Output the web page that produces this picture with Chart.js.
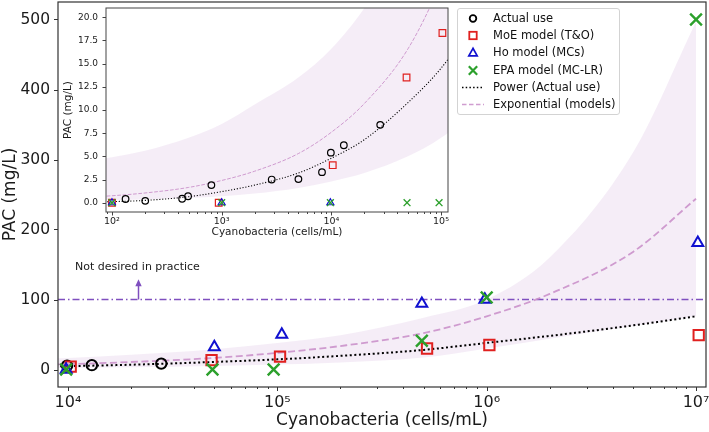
<!DOCTYPE html>
<html>
<head>
<meta charset="utf-8">
<script src="https://cdn.jsdelivr.net/npm/chart.js@4.4.0/dist/chart.umd.min.js"></script>
<style>
html, body { margin: 0; padding: 0; background: #fff; }
#wrap { position: relative; width: 709px; height: 432px; font-family: 'DejaVu Sans', sans-serif; }
#main, #inset { position: absolute; left: 0; top: 0; }
#legend { position: absolute; left: 457px; top: 8px; width: 161px; height: 105px;
  border: 1px solid #d3d3d3; border-radius: 3px; background: rgba(255,255,255,0.85);
  font-size: 11.5px; color: #111; }
.row { position: absolute; left: 0; height: 17px; line-height: 17px; white-space: nowrap; }
.row svg { position: absolute; left: 0; top: 0; }
.row span { position: absolute; left: 35px; top: 0; }
</style>
</head>
<body>
<div id="wrap">
  <canvas id="main" width="709" height="432"></canvas>
  <canvas id="inset" width="460" height="242"></canvas>
  <div id="legend"></div>
</div>
<script>
// values
var actualX = [133, 201, 436, 494, 806, 2860, 5010, 8220, 9900, 13000, 27900];
var actualY = [0.4, 0.2, 0.43, 0.7, 1.9, 2.5, 2.55, 3.3, 5.4, 6.2, 8.4];
var moeX = [100, 940, 10300, 48500, 103000, 519000, 1030000, 10300000];
var moeY = [0, 0, 4.05, 13.5, 18.3, 30, 35, 49];
var hoX = [100, 1000, 9800, 50000, 105000, 490000, 980000, 10200000];
var hoY = [0, 0, 0, 32, 50, 94, 100, 181];
var epaX = [100, 1000, 9800, 49000, 96000, 490000, 1000000, 10000000];
var epaY = [0, 0, 0, 0, 0, 41, 103, 500];

// fitted curves and band, sampled off the figure
var curveX = [80, 100, 200, 500, 1e3, 2e3, 5e3, 1e4, 2e4, 5e4, 1e5, 2e5, 5e5, 1e6, 2e6, 5e6, 1e7];
var powerY = [0.1, 0.12, 0.25, 0.65, 1.2, 1.9, 3.2, 4.8, 6.8, 10.8, 14.5, 19.5, 28, 38, 48, 63, 76];
var expY = [0.68, 0.75, 1.05, 1.65, 2.4, 3.4, 5.3, 7.6, 10.7, 16.6, 23.8, 33.5, 52, 76, 108, 168, 244];
var bandHi = [4.7, 4.9, 5.6, 7.0, 8.5, 10.6, 13.5, 16.6, 21, 29, 38, 49, 74, 100, 160, 310, 497];
var bandLo = [0.28, 0.3, 0.35, 0.5, 0.7, 1.0, 1.6, 2.3, 3.2, 5.0, 7.0, 10, 17, 30, 44, 62, 76];

var limitY = 100;          // "not desired in practice" line
var noteX = 10800, noteY = 142, arrowX = 21500, arrowTop = 129;

var xTicks = [1e4, 1e5, 1e6, 1e7];
var xTickLabels = ['10\u2074', '10\u2075', '10\u2076', '10\u2077'];
var yTicks = [0, 100, 200, 300, 400, 500];
var insetXTicks = [1e2, 1e3, 1e4, 1e5];
var insetXTickLabels = ['10\u00b2', '10\u00b3', '10\u2074', '10\u2075'];
var insetYTicks = [0, 2.5, 5, 7.5, 10, 12.5, 15, 17.5, 20];

var RED = '#e0201f', BLUE = '#1010d0', GREEN = '#2ca02c', PINK = 'rgba(200,140,200,0.85)';
var BAND = 'rgba(220,190,225,0.28)', PURPLE = '#7f4fbf';

Chart.defaults.font.family = "'DejaVu Sans', sans-serif";
Chart.defaults.color = '#1a1a1a';

function pts(xs, ys) {
  return xs.map(function (x, i) { return { x: x, y: ys[i] }; });
}

function minorTicks(majors, lo, hi) {
  var out = [];
  majors.concat([majors[0] / 10]).forEach(function (d) {
    for (var k = 2; k < 10; k++) {
      var v = d * k;
      if (v > lo * 1.01 && v < hi) out.push(v);
    }
  });
  return out;
}

function setTicks(majors, minors) {
  return function (scale) {
    var all = majors.map(function (v) { return { value: v, major: true }; })
      .concat(minors.map(function (v) { return { value: v, major: false }; }));
    all.sort(function (a, b) { return a.value - b.value; });
    scale.ticks = all;
  };
}

// fixed axis box size, no extra room for overhanging labels
function fixSize(prop, size) {
  return function (s) {
    s[prop] = size;
    s.paddingTop = 0; s.paddingBottom = 0; s.paddingLeft = 0; s.paddingRight = 0;
  };
}

// s = sizes for main or inset
function makeDatasets(s) {
  return [
    { label: 'EPA model (MC-LR)', data: pts(epaX, epaY), pointStyle: 'crossRot', pointRadius: s.x,
      pointBorderWidth: s.xw, pointBorderColor: GREEN, pointBackgroundColor: GREEN },
    { label: 'Ho model (MCs)', data: pts(hoX, hoY), pointStyle: 'triangle', pointRadius: s.tri,
      pointBorderWidth: s.w, pointBorderColor: BLUE, pointBackgroundColor: 'rgba(0,0,0,0)' },
    { label: 'MoE model (T&O)', data: pts(moeX, moeY), pointStyle: 'rect', pointRadius: s.sq,
      pointBorderWidth: s.w, pointBorderColor: RED, pointBackgroundColor: 'rgba(0,0,0,0)' },
    { label: 'Actual use', data: pts(actualX, actualY), pointStyle: 'circle', pointRadius: s.c,
      pointBorderWidth: s.w, pointBorderColor: '#000', pointBackgroundColor: 'rgba(0,0,0,0)' },
    { label: 'Power (Actual use)', data: pts(curveX, powerY), showLine: true, pointRadius: 0,
      borderColor: '#000', borderWidth: s.dot, borderDash: s.dotDash, cubicInterpolationMode: 'monotone' },
    { label: 'Exponential (models)', data: pts(curveX, expY), showLine: true, pointRadius: 0,
      borderColor: PINK, borderWidth: s.dash, borderDash: s.dashDash, cubicInterpolationMode: 'monotone' },
    { label: 'band hi', data: pts(curveX, bandHi), showLine: true, pointRadius: 0,
      borderColor: 'rgba(0,0,0,0)', borderWidth: 1, backgroundColor: BAND, fill: '+1',
      cubicInterpolationMode: 'monotone' },
    { label: 'band lo', data: pts(curveX, bandLo), showLine: true, pointRadius: 0,
      borderColor: 'rgba(0,0,0,0)', borderWidth: 1, fill: false, cubicInterpolationMode: 'monotone' }
  ];
}

var framePlugin = {
  id: 'frame',
  beforeDraw: function (chart, args, o) {
    if (!o.fill) return;
    var a = chart.chartArea, ctx = chart.ctx;
    ctx.save();
    ctx.fillStyle = o.fill;
    ctx.fillRect(a.left, a.top, a.right - a.left, a.bottom - a.top);
    ctx.restore();
  },
  afterDatasetsDraw: function (chart, args, o) {
    var a = chart.chartArea, ctx = chart.ctx, sx = chart.scales.x, sy = chart.scales.y;
    ctx.save();
    ctx.strokeStyle = o.color;
    ctx.lineWidth = o.width;
    ctx.strokeRect(a.left, a.top, a.right - a.left, a.bottom - a.top);
    ctx.lineWidth = 1;
    sx.ticks.forEach(function (t) {
      var px = Math.round(sx.getPixelForValue(t.value)) + 0.5;
      ctx.beginPath();
      ctx.moveTo(px, a.bottom);
      ctx.lineTo(px, a.bottom + (t.major ? o.major : o.minor));
      ctx.stroke();
    });
    sy.ticks.forEach(function (t) {
      var py = Math.round(sy.getPixelForValue(t.value)) + 0.5;
      ctx.beginPath();
      ctx.moveTo(a.left, py);
      ctx.lineTo(a.left - o.major, py);
      ctx.stroke();
    });
    ctx.restore();
  }
};

var notePlugin = {
  id: 'note',
  afterDatasetsDraw: function (chart) {
    var ctx = chart.ctx, sx = chart.scales.x, sy = chart.scales.y;
    var ax = Math.round(sx.getPixelForValue(arrowX)) + 0.5;
    var y0 = sy.getPixelForValue(limitY), y1 = sy.getPixelForValue(arrowTop);
    ctx.save();
    ctx.strokeStyle = PURPLE;
    ctx.fillStyle = PURPLE;
    ctx.lineWidth = 1.5;
    ctx.beginPath();
    ctx.moveTo(ax, y0);
    ctx.lineTo(ax, y1 + 6);
    ctx.stroke();
    ctx.beginPath();
    ctx.moveTo(ax, y1);
    ctx.lineTo(ax - 3.2, y1 + 7);
    ctx.lineTo(ax + 3.2, y1 + 7);
    ctx.closePath();
    ctx.fill();
    ctx.fillStyle = '#1a1a1a';
    ctx.font = "11px 'DejaVu Sans', sans-serif";
    ctx.textBaseline = 'alphabetic';
    ctx.fillText('Not desired in practice', sx.getPixelForValue(noteX), sy.getPixelForValue(noteY));
    ctx.restore();
  }
};

var X_MIN = 8958, X_MAX = 1.116e7;
var mainSets = makeDatasets({ x: 8.3, xw: 2.4, tri: 6.3, sq: 7.3, c: 5.2, w: 2,
  dot: 2, dotDash: [2, 2.6], dash: 1.8, dashDash: [7, 3.5] });
mainSets.splice(6, 0, { label: 'limit', data: pts([X_MIN, X_MAX], [limitY, limitY]), showLine: true,
  pointRadius: 0, borderColor: PURPLE, borderWidth: 1.3, borderDash: [7, 3, 1.5, 3] });

new Chart(document.getElementById('main'), {
  type: 'scatter',
  data: { datasets: mainSets },
  plugins: [framePlugin, notePlugin],
  options: {
    responsive: false, animation: false, events: [],
    layout: { autoPadding: false, padding: { left: 0, right: 3, top: 2, bottom: 0 } },
    plugins: {
      legend: { display: false }, tooltip: { enabled: false },
      frame: { color: '#333', width: 1.2, major: 4, minor: 2 }
    },
    scales: {
      x: {
        type: 'logarithmic', min: X_MIN, max: X_MAX,
        afterBuildTicks: setTicks(xTicks, minorTicks(xTicks, X_MIN, X_MAX)),
        afterFit: fixSize('height', 45),
        grid: { display: false, drawTicks: false }, border: { display: false },
        ticks: { autoSkip: false, maxRotation: 0, padding: 6, font: { size: 16 },
          callback: function (v) { var k = xTicks.indexOf(v); return k >= 0 ? xTickLabels[k] : ''; } },
        title: { display: true, text: 'Cyanobacteria (cells/mL)', font: { size: 17 }, padding: { top: 0, bottom: 1 } }
      },
      y: {
        min: -25, max: 525,
        afterBuildTicks: setTicks(yTicks, []),
        afterFit: fixSize('width', 58),
        grid: { display: false, drawTicks: false }, border: { display: false },
        ticks: { autoSkip: false, padding: 8, font: { size: 15.5 } },
        title: { display: true, text: 'PAC (mg/L)', font: { size: 17 }, padding: { top: 0, bottom: 0 } }
      }
    }
  }
});

var IX_MIN = 88.2, IX_MAX = 1.158e5;
new Chart(document.getElementById('inset'), {
  type: 'scatter',
  data: { datasets: makeDatasets({ x: 4.8, xw: 1.4, tri: 4, sq: 4.7, c: 3.3, w: 1.2,
    dot: 1.1, dotDash: [1.1, 1.8], dash: 1, dashDash: [3.7, 1.6] }) },
  plugins: [framePlugin],
  options: {
    responsive: false, animation: false, events: [],
    layout: { autoPadding: false, padding: { left: 60, right: 12, top: 8, bottom: 0 } },
    plugins: {
      legend: { display: false }, tooltip: { enabled: false },
      frame: { color: '#444', width: 1, major: 3.5, minor: 2, fill: '#fff' }
    },
    scales: {
      x: {
        type: 'logarithmic', min: IX_MIN, max: IX_MAX,
        afterBuildTicks: setTicks(insetXTicks, minorTicks(insetXTicks, IX_MIN, IX_MAX)),
        afterFit: fixSize('height', 30),
        grid: { display: false, drawTicks: false }, border: { display: false },
        ticks: { autoSkip: false, maxRotation: 0, padding: 4, font: { size: 9.5 },
          callback: function (v) { var k = insetXTicks.indexOf(v); return k >= 0 ? insetXTickLabels[k] : ''; } },
        title: { display: true, text: 'Cyanobacteria (cells/mL)', font: { size: 10.5 }, padding: { top: 0, bottom: 3 } }
      },
      y: {
        min: -1, max: 21,
        afterBuildTicks: setTicks(insetYTicks, []),
        afterFit: fixSize('width', 46),
        grid: { display: false, drawTicks: false }, border: { display: false },
        ticks: { autoSkip: false, padding: 8, font: { size: 9 },
          callback: function (v) { return v.toFixed(1); } },
        title: { display: true, text: 'PAC (mg/L)', font: { size: 10.5 }, padding: { top: 2, bottom: 0 } }
      }
    }
  }
});

// legend (html)
var legendItems = [
  { text: 'Actual use', icon: '<circle cx="15" cy="8.5" r="3.3" fill="none" stroke="#000" stroke-width="1.8"/>' },
  { text: 'MoE model (T&amp;O)', icon: '<rect x="11.3" y="4.8" width="7.4" height="7.4" fill="none" stroke="' + RED + '" stroke-width="1.8"/>' },
  { text: 'Ho model (MCs)', icon: '<polygon points="15,4.3 10.8,11.8 19.2,11.8" fill="none" stroke="' + BLUE + '" stroke-width="1.7"/>' },
  { text: 'EPA model (MC-LR)', icon: '<path d="M10.8 4.3 L19.2 12.7 M19.2 4.3 L10.8 12.7" stroke="' + GREEN + '" stroke-width="2.2"/>' },
  { text: 'Power (Actual use)', icon: '<line x1="4" y1="8.5" x2="26" y2="8.5" stroke="#000" stroke-width="1.5" stroke-dasharray="1.5 2.2"/>' },
  { text: 'Exponential (models)', icon: '<line x1="4" y1="8.5" x2="26" y2="8.5" stroke="' + PINK + '" stroke-width="1.5" stroke-dasharray="4.5 2.5"/>' }
];
var lg = document.getElementById('legend');
legendItems.forEach(function (it, i) {
  var row = document.createElement('div');
  row.className = 'row';
  row.style.top = (1 + i * 17.2) + 'px';
  row.innerHTML = '<svg width="30" height="17">' + it.icon + '</svg><span>' + it.text + '</span>';
  lg.appendChild(row);
});
</script>
</body>
</html>
